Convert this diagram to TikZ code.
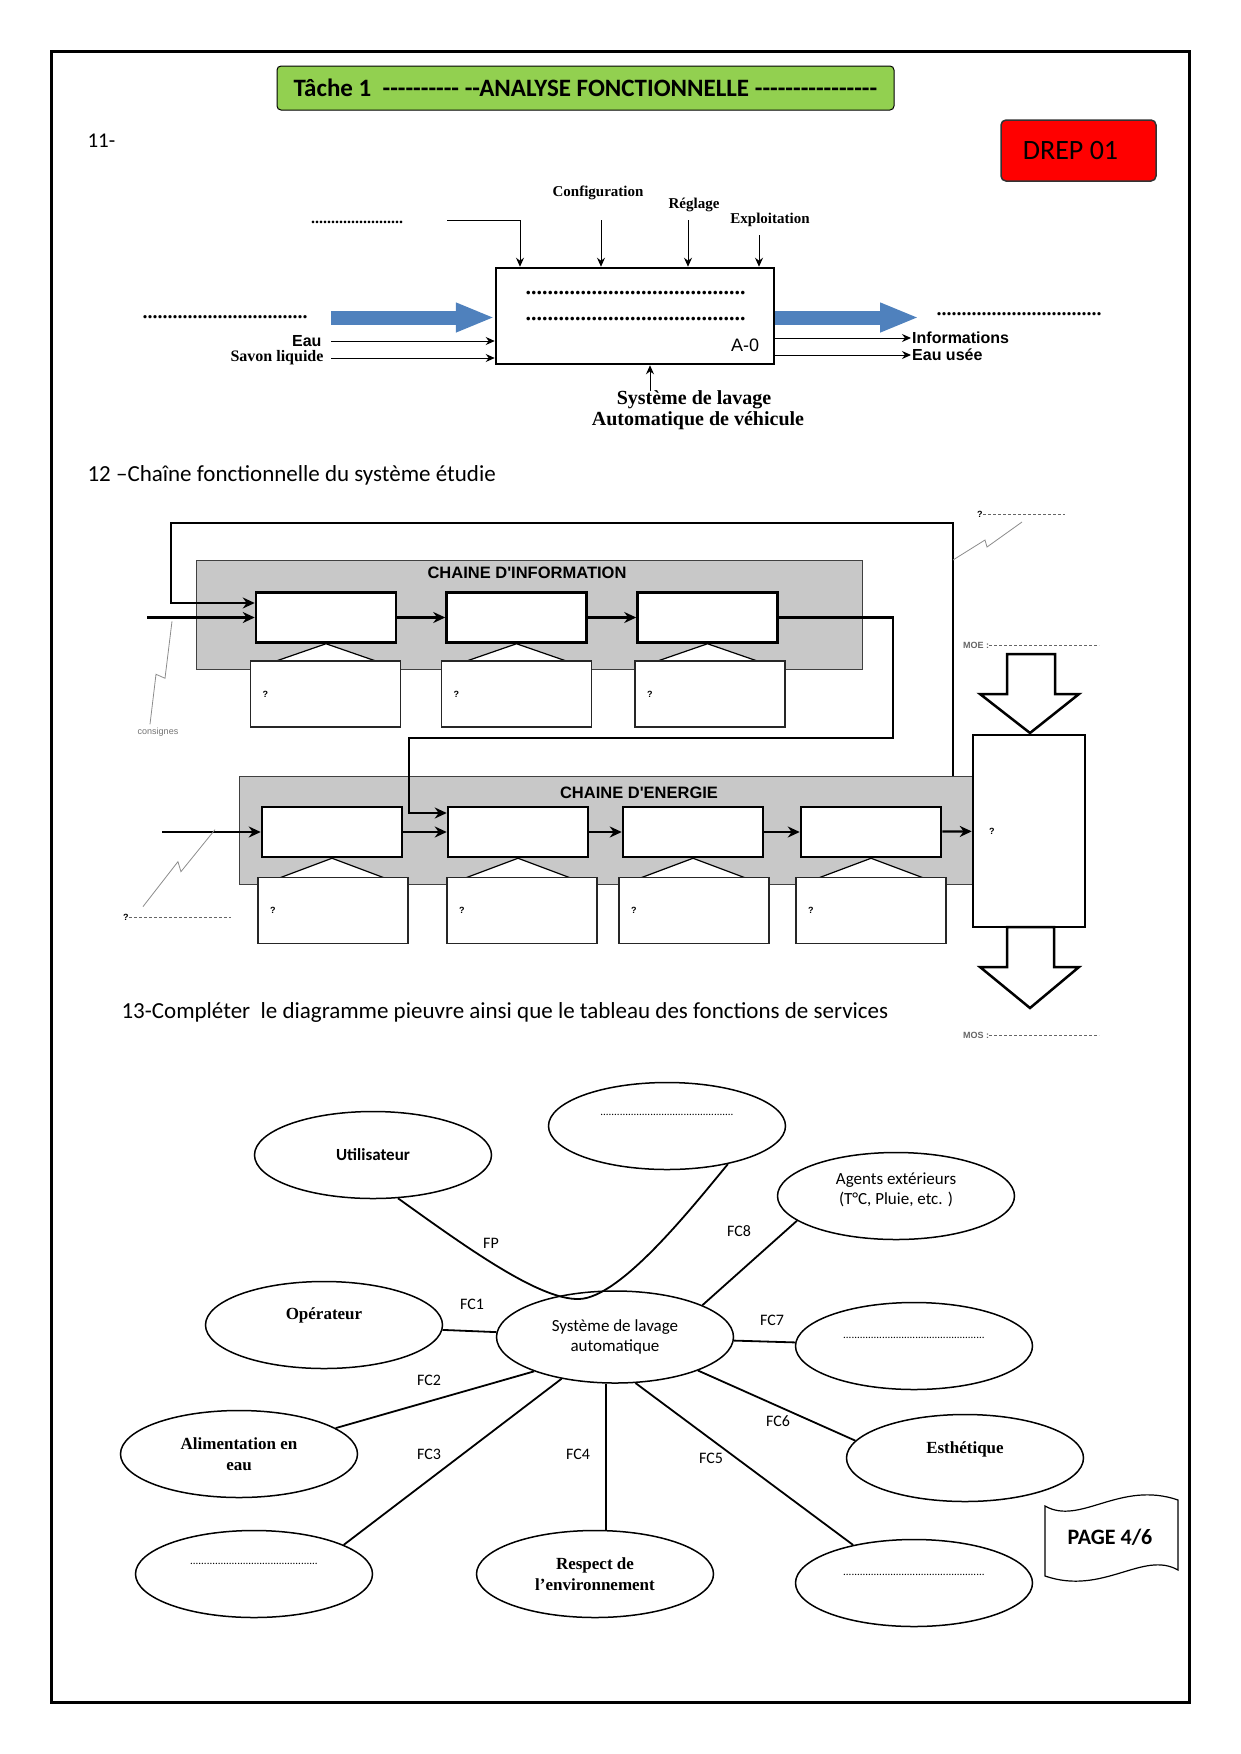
\documentclass[tikz,border=0pt]{standalone}
\usepackage{fontspec}
\setmainfont{Carlito}[Ligatures=TeXOff]
\newfontfamily\tnr{Liberation Serif}
\newfontfamily\ari{Liberation Sans}
\usetikzlibrary{arrows.meta,shapes.geometric}
\definecolor{vertT}{HTML}{92D050}
\definecolor{bleuF}{HTML}{4F81BD}
\definecolor{grisC}{HTML}{C8C8C8}
\newcommand{\fsz}[2]{\fontsize{#1}{#2}\selectfont}
\newcommand{\pts}[1]{\foreach \k in {1,...,#1}{.}}
\newcommand{\monte}[2]{\raisebox{#1}[0pt][0pt]{#2}}

\begin{document}
\begin{tikzpicture}[x=1pt,y=-1pt,
  fl/.style={-{Stealth[length=9pt,width=8pt]},line width=1pt},
  flc/.style={-{Stealth[length=12pt,width=11pt]},line width=2.2pt},
  bloc/.style={draw,line width=2.5pt,fill=white,minimum width=140pt,minimum height=50pt,inner sep=0pt},
  sous/.style={draw=black!85,line width=1.2pt,fill=white,minimum width=150pt,minimum height=66pt,inner sep=0pt,text width=126pt,align=left,font=\ari\fsz{9}{11}\bfseries},
  panneau/.style={draw=black!75,line width=1pt,fill=grisC,inner sep=0pt},
  tri/.style={draw,line width=1.2pt,fill=white},
  zig/.style={draw=black!45,line width=0.8pt},
  tirets/.style={draw=black!60,line width=0.6pt,dash pattern=on 3pt off 2pt},
  bulle/.style={draw,ellipse,line width=1.5pt,minimum width=237pt,minimum height=87pt,inner sep=0pt,align=center},
  lien/.style={line width=1.8pt},
  grosse/.style={bleuF,line width=14pt,-{Triangle[length=39pt,width=27pt]}}]
\useasboundingbox (0,0) rectangle (1240,1754);
\draw[line width=3pt] (51,51) rectangle (1189,1702);

% en-tete
\node[draw,fill=vertT,rounded corners=4pt,line width=1pt,minimum width=617pt,minimum height=44pt,inner sep=0pt] (titre) at (585.5,88) {\fsz{25}{28}\bfseries Tâche 1 \ ---------- --ANALYSE FONCTIONNELLE ----------------};
\node[draw=black!80,fill=red,rounded corners=5pt,line width=1.5pt,minimum width=155pt,minimum height=61pt,inner sep=0pt] (drep) at (1078.5,150.5) {\fsz{28}{32}\hspace*{-16pt}DREP 01};
\node[anchor=west] (q11) at (84,141) {\fsz{21}{25}11-};

% 11 - A-0
\node[draw,line width=2.5pt,minimum width=278pt,minimum height=96pt,inner sep=0pt] (a0) at (635,316) {};
\node (lig1) at (635.5,293) {\tnr\fsz{22}{24}\bfseries\pts{40}};
\node (lig2) at (635.5,319) {\tnr\fsz{22}{24}\bfseries\pts{40}};
\node (codeA) at (745,345) {\ari\fsz{18}{20}A-0};

\node (pts0) at (357,222) {\tnr\fsz{16}{18}\bfseries\pts{23}};
\node (conf) at (598,193) {\tnr\fsz{15}{18}\bfseries Configuration};
\node (regl) at (694,205) {\tnr\fsz{15}{18}\bfseries Réglage};
\node (expl) at (770,220) {\tnr\fsz{15}{18}\bfseries Exploitation};
\coordinate (h0) at (447,220);
\coordinate (h1) at (601,220);
\coordinate (h2) at (688,220);
\coordinate (h3) at (759,235);
\draw[fl] (h0) -| ([xshift=-115pt]a0.north);
\draw[fl] (h1) -- (h1 |- a0.north);
\draw[fl] (h2) -- (h2 |- a0.north);
\draw[fl] (h3) -- (h3 |- a0.north);

\coordinate (b0) at (331,317.5);
\coordinate (b1) at (919,317.5);
\draw[grosse] (b0) -- (b0 -| a0.west);
\draw[grosse] (b1 -| a0.east) -- (b1);
\node (pg) at (225,317) {\tnr\fsz{20}{22}\bfseries\pts{33}};
\node (pd) at (1019,314) {\tnr\fsz{20}{22}\bfseries\pts{33}};

\coordinate (eau) at (331,341);
\coordinate (sav) at (331,358);
\draw[fl] (eau) -- (eau -| a0.west);
\draw[fl] (sav) -- (sav -| a0.west);
\node[anchor=east,xshift=-6pt] (leau) at (eau) {\ari\fsz{16}{18}\bfseries Eau};
\node[anchor=east,xshift=-4pt] (lsav) at (sav) {\tnr\fsz{16}{18}\bfseries Savon liquide};
\coordinate (inf) at (911,338);
\coordinate (use) at (911,355);
\draw[fl] (inf -| a0.east) -- (inf);
\draw[fl] (use -| a0.east) -- (use);
\node[anchor=west,inner sep=1pt] (linf) at (inf) {\ari\fsz{16}{18}\bfseries Informations};
\node[anchor=west,inner sep=1pt] (luse) at (use) {\ari\fsz{16}{18}\bfseries Eau usée};
\coordinate (sup) at (650,391);
\draw[fl] (sup) -- (sup |- a0.south);
\node (sys1) at (694,400) {\tnr\fsz{20}{22}\bfseries Système de lavage};
\node (sys2) at (698,421) {\tnr\fsz{20}{22}\bfseries Automatique de véhicule};

% 12 - chaine fonctionnelle
\node[anchor=west] (q12) at (84,475) {\fsz{23}{27}12 –Chaîne fonctionnelle du système étudie};

\node[panneau,minimum width=666pt,minimum height=109pt] (pinfo) at (529,614.5) {};
\node (tinfo) at (527,573) {\ari\fsz{16.5}{18}\bfseries CHAINE D'INFORMATION};
\node[panneau,minimum width=734pt,minimum height=108pt] (pener) at (606,830) {};
\node (tener) at (639,793) {\ari\fsz{16.5}{18}\bfseries CHAINE D'ENERGIE};

\node[bloc] (i1) at (326,617.5) {};
\node[bloc] (i2) at (516.5,617.5) {};
\node[bloc] (i3) at (707.5,617.5) {};
\node[bloc] (e1) at (332,832) {};
\node[bloc] (e2) at (518,832) {};
\node[bloc] (e3) at (693,832) {};
\node[bloc] (e4) at (871,832) {};

\draw[tri] (i1.south) -- ++(-52,18) -- ++(104,0) -- cycle;
\draw[tri] (i2.south) -- ++(-52,18) -- ++(104,0) -- cycle;
\draw[tri] (i3.south) -- ++(-52,18) -- ++(104,0) -- cycle;
\draw[tri] (e1.south) -- ++(-56,21) -- ++(112,0) -- cycle;
\draw[tri] (e2.south) -- ++(-56,21) -- ++(112,0) -- cycle;
\draw[tri] (e3.south) -- ++(-56,21) -- ++(112,0) -- cycle;
\draw[tri] (e4.south) -- ++(-56,21) -- ++(112,0) -- cycle;

\node[sous] (si1) at (325.5,694) {?};
\node[sous] (si2) at (516.5,694) {?};
\node[sous] (si3) at (710,694) {?};
\node[sous] (se1) at (333,910.5) {?};
\node[sous] (se2) at (522,910.5) {?};
\node[sous] (se3) at (694,910.5) {?};
\node[sous] (se4) at (871,910.5) {?};

\node[bloc,minimum width=112pt,minimum height=192pt,text width=80pt,align=left,font=\ari\fsz{9}{11}\bfseries] (eff) at (1029,831) {?};

\coordinate (cons) at (147,617.5);
\coordinate (ret) at (953,776);
\coordinate (coin) at (171,523);
\coordinate (r1) at (893,738);
\coordinate (r2) at (409,738);
\coordinate (ener) at (162,832);
\draw[flc] (cons) -- (i1);
\draw[flc] (i1) -- (i2);
\draw[flc] (i2) -- (i3);
\draw[flc,line width=2.6pt] (ret) |- (coin) |- ([yshift=14.5pt]i1.west);
\draw[flc] (i3.east) -| (r1) -- (r2) |- ([yshift=19pt]e2.west);
\draw[flc] (ener) -- (e1);
\draw[flc] (e1) -- (e2);
\draw[flc] (e2) -- (e3);
\draw[flc] (e3) -- (e4);
\draw[flc] (e4) -- (eff);

% fleches MOE / MOS
\draw[line width=2.5pt,fill=white] (1007,654) -- (1055,654) -- (1055,694) -- (1079,694) -- (1030,733) -- (980,694) -- (1007,694) -- cycle;
\draw[line width=2.5pt,fill=white] (1007,927) -- (1054,927) -- (1054,967) -- (1079,967) -- (1030,1008) -- (980,967) -- (1007,967) -- cycle;

% annotations
\node[text=black!55] (lcons) at (158,732) {\ari\fsz{9}{10}consignes};
\draw[zig] ([xshift=-8pt]lcons.north) -- ++(6,-50) -- ++(9,4) -- ++(7,-57);
\node[anchor=west,inner sep=0pt] (q2) at (123,917) {\ari\fsz{9}{10}\bfseries ?};
\draw[tirets] (q2.east) -- ++(102,0);
\draw[zig] ([xshift=17pt,yshift=7pt]q2.north) -- ++(35,-45) -- ++(3,10) -- ++(34,-42);
\node[anchor=west,inner sep=0pt] (q1) at (977,514) {\ari\fsz{9}{10}\bfseries ?};
\draw[tirets] (q1.east) -- ++(82,0);
\coordinate (z1) at (953,560);
\draw[zig] (z1) -- ++(32,-20) -- ++(2,7) -- ++(35,-25);
\node[anchor=west,inner sep=0pt,text=black!60] (moe) at (963,645) {\ari\fsz{9}{10}\bfseries MOE :};
\draw[tirets] (moe.east) -- ++(110,0);
\node[anchor=west,inner sep=0pt,text=black!60] (mos) at (963,1035) {\ari\fsz{9}{10}\bfseries MOS :};
\draw[tirets] (mos.east) -- ++(110,0);

% 13 - pieuvre
\node[anchor=west] (q13) at (118,1012) {\fsz{23}{27}13-Compléter \ le diagramme pieuvre ainsi que le tableau des fonctions de services};

\node[bulle,font=\fsz{17}{20}\bfseries] (util) at (373,1155) {Utilisateur};
\node[bulle,font=\fsz{11}{13}] (haut) at (667,1126) {\monte{11pt}{\pts{48}}};
\node[bulle,font=\fsz{17}{20}] (agents) at (896,1196) {Agents extérieurs\\(T°C, Pluie, etc. )\\[-6pt]};
\node[bulle,font=\tnr\fsz{17}{20}\bfseries] (oper) at (324,1325) {\monte{6pt}{Opérateur}};
\node[bulle,minimum height=92pt,font=\fsz{17}{20}] (centre) at (615,1337) {Système de lavage\\automatique};
\node[bulle,font=\fsz{11}{13}] (fc7b) at (914,1346) {\monte{8pt}{\pts{51}}};
\node[bulle,font=\tnr\fsz{17}{21}\bfseries] (alim) at (239,1454) {Alimentation en\\eau};
\node[bulle,font=\tnr\fsz{17}{20}\bfseries] (esth) at (965,1458) {\monte{5pt}{Esthétique}};
\node[bulle,font=\fsz{11}{13}] (bg) at (254,1574) {\monte{10pt}{\pts{46}}};
\node[bulle,font=\tnr\fsz{17}{21}\bfseries] (resp) at (595,1574) {Respect de\\l’environnement};
\node[bulle,font=\fsz{11}{13}] (bd) at (914,1583) {\monte{8pt}{\pts{51}}};

\draw[lien] (util.-60) .. controls (470,1250) and (540,1300) .. (579,1299) .. controls (620,1298) and (690,1210) .. (haut.-32);
\draw[lien] (oper) -- (centre);
\draw[lien] (centre.20) -- (agents.194);
\draw[lien] (centre) -- (fc7b);
\draw[lien] (centre.203) -- (alim.15);
\draw[lien] (centre.218) -- (bg.18);
\draw[lien] ([xshift=-9pt]centre.south) -- ([xshift=11pt]resp.north);
\draw[lien] (centre.-66) -- (bd.148);
\draw[lien] (centre.-22) -- (esth.171);

\node (lfp) at (491,1243) {\fsz{16}{18}FP};
\node (lfc1) at (472,1304) {\fsz{16}{18}FC1};
\node (lfc8) at (739,1231) {\fsz{16}{18}FC8};
\node (lfc7) at (772,1320) {\fsz{16}{18}FC7};
\node (lfc2) at (429,1380) {\fsz{16}{18}FC2};
\node (lfc3) at (429,1454) {\fsz{16}{18}FC3};
\node (lfc4) at (578,1454) {\fsz{16}{18}FC4};
\node (lfc5) at (711,1458) {\fsz{16}{18}FC5};
\node (lfc6) at (778,1421) {\fsz{16}{18}FC6};

% page
\draw[line width=1.2pt,fill=white] (1045,1506) .. controls (1080,1526) and (1120,1480) .. (1178,1500) -- (1178,1570) .. controls (1143,1550) and (1103,1596) .. (1045,1576) -- cycle;
\node (page) at (1110,1537) {\fsz{22}{26}\bfseries PAGE 4/6};
\end{tikzpicture}
\end{document}
